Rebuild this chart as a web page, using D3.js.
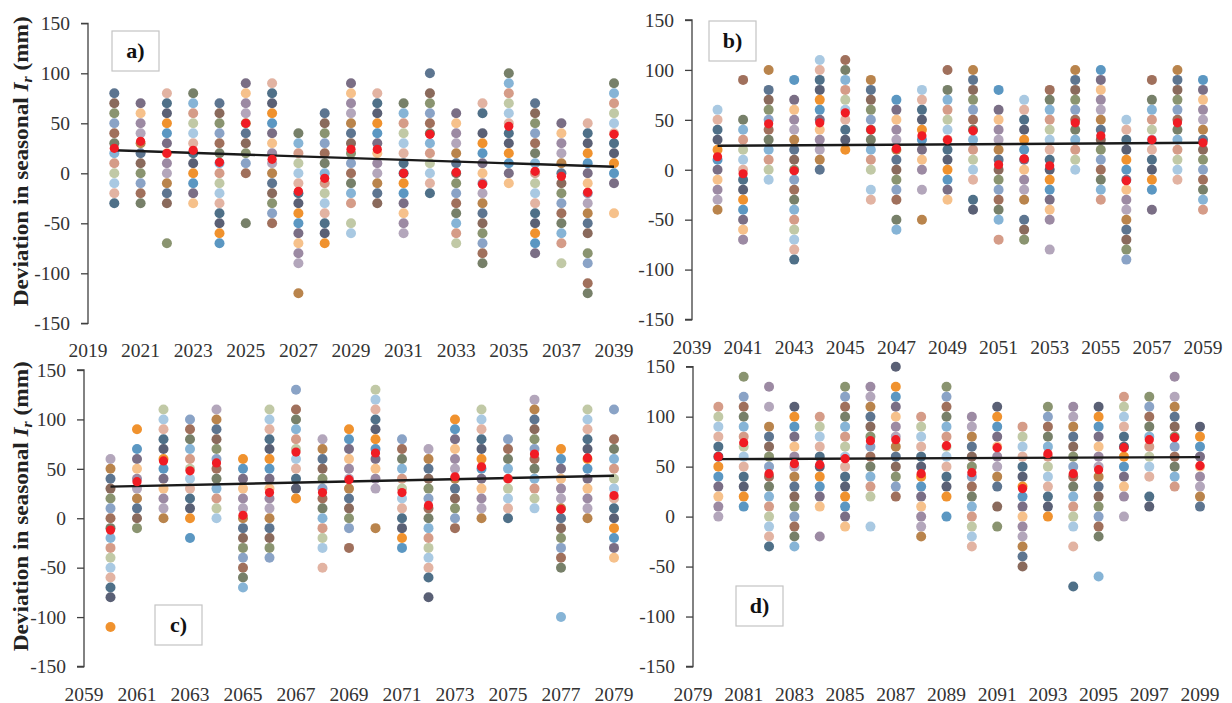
<!DOCTYPE html>
<html>
<head>
<meta charset="utf-8">
<script src="https://cdn.jsdelivr.net/npm/d3@7"></script>
<style>
  body { margin: 0; background: #fff; }
  svg { display: block; font-family: "Liberation Serif", "Times New Roman", serif; }
</style>
</head>
<body>
<svg id="chart" width="1232" height="703"></svg>
<script>
// values of each model per year (mm), top to bottom
var valuesA = [
  [80,70,60,50,40,30,20,10,0,-10,-20,-30],
  [70,60,50,40,30,20,10,0,-10,-20,-30],
  [80,70,60,50,40,30,20,10,0,-10,-20,-30,-70],
  [80,70,60,50,40,30,20,10,0,-10,-20,-30],
  [70,60,50,40,30,20,10,0,-10,-20,-30,-40,-50,-60,-70],
  [90,80,70,60,50,40,30,20,10,0,-50],
  [90,80,70,60,50,40,30,20,10,0,-10,-20,-30,-40,-50],
  [40,30,20,10,0,-10,-20,-30,-40,-50,-60,-70,-80,-90,-120],
  [60,50,40,30,20,10,0,-10,-20,-30,-40,-50,-60,-70],
  [90,80,70,60,50,40,30,20,10,0,-10,-20,-30,-50,-60],
  [80,70,60,50,40,30,20,10,0,-10,-20,-30],
  [70,60,50,40,30,20,10,0,-10,-20,-30,-40,-50,-60],
  [100,80,70,60,50,40,30,20,10,0,-10,-20],
  [60,50,40,30,20,10,0,-10,-20,-30,-40,-50,-60,-70],
  [70,60,40,30,20,10,0,-10,-20,-30,-40,-50,-60,-70,-80,-90],
  [100,90,80,70,60,50,40,30,20,10,0,-10],
  [70,60,50,40,30,20,10,0,-10,-20,-30,-40,-50,-60,-70,-80],
  [50,40,30,20,10,0,-10,-20,-30,-40,-50,-60,-70,-90],
  [50,40,30,20,10,0,-10,-20,-30,-40,-50,-60,-80,-90,-110,-120],
  [90,80,70,60,50,40,30,20,10,0,-10,-40]
];
var meanA = [25,32,20,23,11,50,14,-18,-5,24,24,0,39,1,-11,47,2,-3,-19,39];

var valuesB = [
  [60,50,40,30,20,10,0,-10,-20,-30,-40],
  [90,50,40,30,20,10,0,-10,-20,-30,-40,-50,-60,-70],
  [100,80,70,60,50,40,30,20,10,0,-10],
  [90,70,60,50,40,30,20,10,0,-10,-20,-30,-40,-50,-60,-70,-80,-90],
  [110,100,90,80,70,60,50,40,30,20,10,0],
  [110,100,90,80,70,60,50,40,30,20],
  [90,80,70,60,50,40,30,20,10,0,-20,-30],
  [70,60,50,40,30,20,10,0,-10,-20,-30,-50,-60],
  [80,70,60,50,40,30,20,10,0,-20,-50],
  [100,80,70,60,50,40,30,20,10,0,-10,-20,-30],
  [100,90,80,70,60,50,40,30,20,10,0,-10,-30,-40],
  [80,60,50,40,30,20,10,0,-10,-20,-30,-40,-50,-70],
  [70,60,50,40,30,20,10,0,-10,-20,-30,-50,-60,-70],
  [80,70,60,50,40,30,20,10,0,-10,-20,-30,-40,-50,-80],
  [100,90,80,70,60,50,40,30,20,10,0],
  [100,90,80,70,60,50,40,30,20,10,0,-10,-20,-30],
  [50,40,30,20,10,0,-10,-20,-30,-40,-50,-60,-70,-80,-90],
  [90,70,60,50,40,30,20,10,0,-10,-20,-40],
  [100,90,80,70,60,50,40,30,20,10,0,-10],
  [90,80,70,60,50,40,30,20,10,0,-10,-20,-30,-40]
];
var meanB = [13,-4,46,-1,47,57,40,21,34,30,39,5,11,4,47,34,-11,30,47,27];

var valuesC = [
  [60,50,40,30,20,10,0,-10,-20,-30,-40,-50,-60,-70,-80,-110],
  [90,70,60,50,40,30,20,10,0,-10],
  [110,100,90,80,70,60,50,40,30,20,10,0],
  [100,90,80,70,60,50,40,30,20,10,0,-20],
  [110,100,90,80,70,60,50,40,30,20,10,0],
  [60,50,40,30,20,10,0,-10,-20,-30,-40,-50,-60,-70],
  [110,100,90,80,70,60,50,40,30,20,10,0,-10,-20,-30,-40],
  [130,110,100,90,80,70,60,50,40,30,20],
  [80,70,60,50,40,30,20,10,0,-10,-20,-30,-50],
  [90,80,70,60,50,40,30,20,10,0,-10,-30],
  [130,120,110,100,90,80,70,60,50,40,30,-10],
  [80,70,60,50,40,30,20,10,0,-10,-20,-30],
  [70,60,50,40,30,20,10,0,-10,-20,-30,-40,-50,-60,-80],
  [100,90,80,70,60,50,40,30,20,10,0,-10],
  [110,100,90,80,70,60,50,40,30,20,10,0],
  [80,70,60,50,40,30,20,10,0],
  [120,110,100,90,80,70,60,50,40,30,20,10],
  [70,60,50,40,30,20,10,0,-10,-20,-30,-40,-50,-100],
  [110,100,90,80,70,60,50,40,30,20,10,0],
  [110,80,70,60,50,40,30,20,10,0,-10,-20,-30,-40]
];
var meanC = [-12,37,58,48,56,3,26,67,26,39,66,26,13,42,52,40,65,9,61,23];

var valuesD = [
  [110,100,90,80,70,60,50,40,30,20,10,0],
  [140,120,110,100,90,80,70,60,50,40,30,20,10],
  [130,110,90,80,70,60,50,40,30,20,10,0,-10,-20,-30],
  [110,100,90,80,70,60,50,40,30,20,10,0,-10,-20,-30],
  [100,90,80,70,60,50,40,30,20,10,-20],
  [130,120,110,100,90,80,70,60,50,40,30,20,10,0,-10],
  [130,120,110,100,90,80,70,60,50,40,30,20,-10],
  [150,130,120,110,100,90,80,70,60,50,40,30,20],
  [100,90,80,70,60,50,40,30,20,10,0,-10,-20],
  [130,120,110,100,90,80,70,60,50,40,30,20,0],
  [100,90,80,70,60,50,40,30,20,10,0,-10,-20,-30],
  [110,100,90,80,70,60,50,40,30,10,-10],
  [90,80,70,60,50,40,30,20,10,0,-10,-20,-30,-40,-50],
  [110,100,90,80,70,60,50,40,30,20,10,0],
  [110,100,90,80,70,60,50,40,30,20,10,0,-10,-30,-70],
  [110,100,90,80,70,60,50,40,30,20,10,0,-10,-20,-60],
  [120,110,100,90,80,70,60,50,40,30,20,0],
  [120,110,100,90,80,70,60,50,40,20,10],
  [140,120,110,100,90,80,70,60,50,40,30],
  [90,80,70,60,50,40,30,20,10]
];
var meanD = [60,74,43,53,52,58,76,77,43,71,44,69,28,63,43,47,69,77,79,51];

// linear trend of the mean, value at first and last year
var trendA = [23, 6.5];
var trendB = [24, 27];
var trendC = [32, 43];
var trendD = [57.5, 59.5];

var yTicks = [150, 100, 50, 0, -50, -100, -150];

var palette = ["#5d7590", "#8aa3c6", "#86b4d6", "#a9c9e2", "#5a6075", "#7a6e85",
  "#b3a6bb", "#8a6a5c", "#a0705c", "#d59c88", "#e2b3a2", "#f0922e", "#f6c18b",
  "#b9844c", "#8a9470", "#778069", "#c1c9a6", "#4f7088", "#5b97c2", "#9c8aa3"];

var panels = [
  {values: valuesA, mean: meanA, trend: trendA, start: 2019, x0: 88, x1: 614, yTop: 23.3, yBot: 323.3, label: "a)", box: [112, 31], title: true},
  {values: valuesB, mean: meanB, trend: trendB, start: 2039, x0: 692, x1: 1203, yTop: 20, yBot: 319.5, label: "b)", box: [709, 21], title: false},
  {values: valuesC, mean: meanC, trend: trendC, start: 2059, x0: 84, x1: 614, yTop: 370, yBot: 666.5, label: "c)", box: [155, 605], title: true},
  {values: valuesD, mean: meanD, trend: trendD, start: 2079, x0: 693, x1: 1200, yTop: 366.7, yBot: 666.5, label: "d)", box: [736, 586], title: false}
];

var svg = d3.select("#chart");

panels.forEach(function(p, pi) {
    var x = d3.scaleLinear().domain([p.start, p.start + 20]).range([p.x0, p.x1]);
    var y = d3.scaleLinear().domain([-150, 150]).range([p.yBot, p.yTop]);
    var g = svg.append("g");

    // y axis
    var yAxis = d3.axisLeft(y).tickValues(yTicks).tickSize(7).tickPadding(11)
        .tickFormat(function(d) { return String(d); });
    var ya = g.append("g")
        .attr("transform", "translate(" + p.x0 + ",0)")
        .call(yAxis);
    ya.select(".domain").attr("stroke", "#404040").attr("stroke-width", 1.3)
        .attr("d", "M-7," + y(150) + "H0V" + y(-150) + "H-7");
    ya.selectAll(".tick line").attr("stroke", "#404040").attr("stroke-width", 1.3);
    ya.selectAll(".tick text")
        .attr("font-size", 19.5)
        .attr("fill", "#333")
        .attr("font-family", "Liberation Serif, serif");

    // x tick labels
    var xTicks = d3.range(p.start, p.start + 21, 2);
    g.selectAll(".xt").data(xTicks).enter().append("text")
        .attr("x", function(d) { return x(d); })
        .attr("y", p.yBot + 34)
        .attr("text-anchor", "middle")
        .attr("font-size", 19.5)
        .attr("fill", "#333")
        .text(function(d) { return d; });

    // model dots
    p.values.forEach(function(col, i) {
        var yr = p.start + 1 + i;
        g.selectAll(".d" + i).data(col).enter().append("circle")
            .attr("cx", x(yr))
            .attr("cy", function(d) { return y(d); })
            .attr("r", 5)
            .attr("fill", function(d, j) { return palette[(j * 7 + i * 5 + pi * 3) % palette.length]; });
    });

    // trend line
    g.append("line")
        .attr("x1", x(p.start + 1)).attr("y1", y(p.trend[0]))
        .attr("x2", x(p.start + 20)).attr("y2", y(p.trend[1]))
        .attr("stroke", "#1a1a1a")
        .attr("stroke-width", 2.4);

    // ensemble mean
    g.selectAll(".mean").data(p.mean).enter().append("circle")
        .attr("cx", function(d, i) { return x(p.start + 1 + i); })
        .attr("cy", function(d) { return y(d); })
        .attr("r", 4.6)
        .attr("fill", "#f01c24");

    // panel label box
    g.append("rect")
        .attr("x", p.box[0]).attr("y", p.box[1])
        .attr("width", 47).attr("height", 40)
        .attr("fill", "#fff")
        .attr("stroke", "#c4c4c4")
        .attr("stroke-width", 1.2);
    g.append("text")
        .attr("x", p.box[0] + 23.5).attr("y", p.box[1] + 27)
        .attr("text-anchor", "middle")
        .attr("font-size", 22)
        .attr("font-weight", "bold")
        .attr("fill", "#111")
        .text(p.label);

    if (p.title) {
        var cy = (p.yTop + p.yBot) / 2 - 12;
        var t = g.append("text")
            .attr("transform", "translate(28," + cy + ") rotate(-90)")
            .attr("text-anchor", "middle")
            .attr("font-size", 20.5)
            .attr("font-weight", "bold")
            .attr("fill", "#222")
            .attr("textLength", 290)
            .attr("lengthAdjust", "spacingAndGlyphs");
        t.append("tspan").text("Deviation in seasonal ");
        t.append("tspan").attr("font-style", "italic").text("I");
        t.append("tspan").attr("font-size", 14).attr("dy", 4).attr("font-style", "italic").text("r");
        t.append("tspan").attr("dy", -4).text(" (mm)");
    }
});
</script>
</body>
</html>
